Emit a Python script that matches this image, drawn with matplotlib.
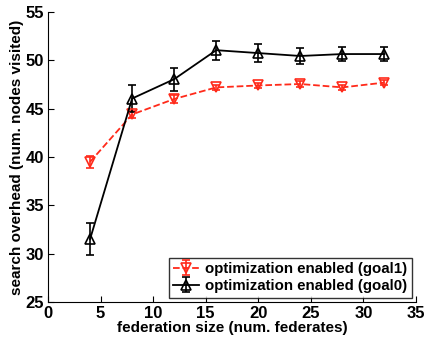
import matplotlib
matplotlib.use("Agg")
import matplotlib.pyplot as plt

plt.rcParams["font.family"] = ["Liberation Sans", "DejaVu Sans"]
plt.rcParams["font.weight"] = "bold"

fed_size = [4, 8, 12, 16, 20, 24, 28, 32]
goal1 = [39.5, 44.4, 46.0, 47.2, 47.4, 47.55, 47.2, 47.7]
goal1_err = [0.6, 0.4, 0.4, 0.3, 0.3, 0.3, 0.3, 0.3]
goal0 = [31.5, 46.05, 48.05, 51.05, 50.75, 50.45, 50.65, 50.65]
goal0_err = [1.65, 1.4, 1.2, 1.0, 0.9, 0.8, 0.7, 0.7]

fig = plt.figure(figsize=(4.24, 3.41), dpi=100)
ax = fig.add_axes([48 / 424, 1 - 302 / 341, 368 / 424, 290 / 341])

ax.errorbar(fed_size, goal1, yerr=goal1_err, color="#ff2a1a", ls="--", lw=1.3,
            marker="v", mfc="none", mec="#ff2a1a", ms=7, mew=1.2, capsize=3,
            elinewidth=1.2, label="optimization enabled (goal1)")
ax.errorbar(fed_size, goal0, yerr=goal0_err, color="black", ls="-", lw=1.3,
            marker="^", mfc="none", mec="black", ms=7, mew=1.2, capsize=3,
            elinewidth=1.2, label="optimization enabled (goal0)")

ax.set_xlim(0, 35)
ax.set_ylim(25, 55)
ax.set_xticks(range(0, 36, 5))
ax.set_yticks(range(25, 56, 5))
ax.tick_params(direction="in", labelsize=12, length=4, pad=3)
ax.spines["top"].set_visible(False)
ax.spines["right"].set_visible(False)
ax.set_xlabel("federation size (num. federates)", fontsize=11, fontweight="bold", labelpad=0)
ax.set_ylabel("search overhead (num. nodes visited)", fontsize=11, fontweight="bold", labelpad=1)

leg = ax.legend(loc="lower right", fontsize=10.8, frameon=True, fancybox=False,
                edgecolor="black", borderaxespad=0.3, handlelength=1.7,
                borderpad=0.3, labelspacing=0.2, handletextpad=0.4)
leg.get_frame().set_linewidth(1.0)

fig.savefig("out.png", dpi=100)
